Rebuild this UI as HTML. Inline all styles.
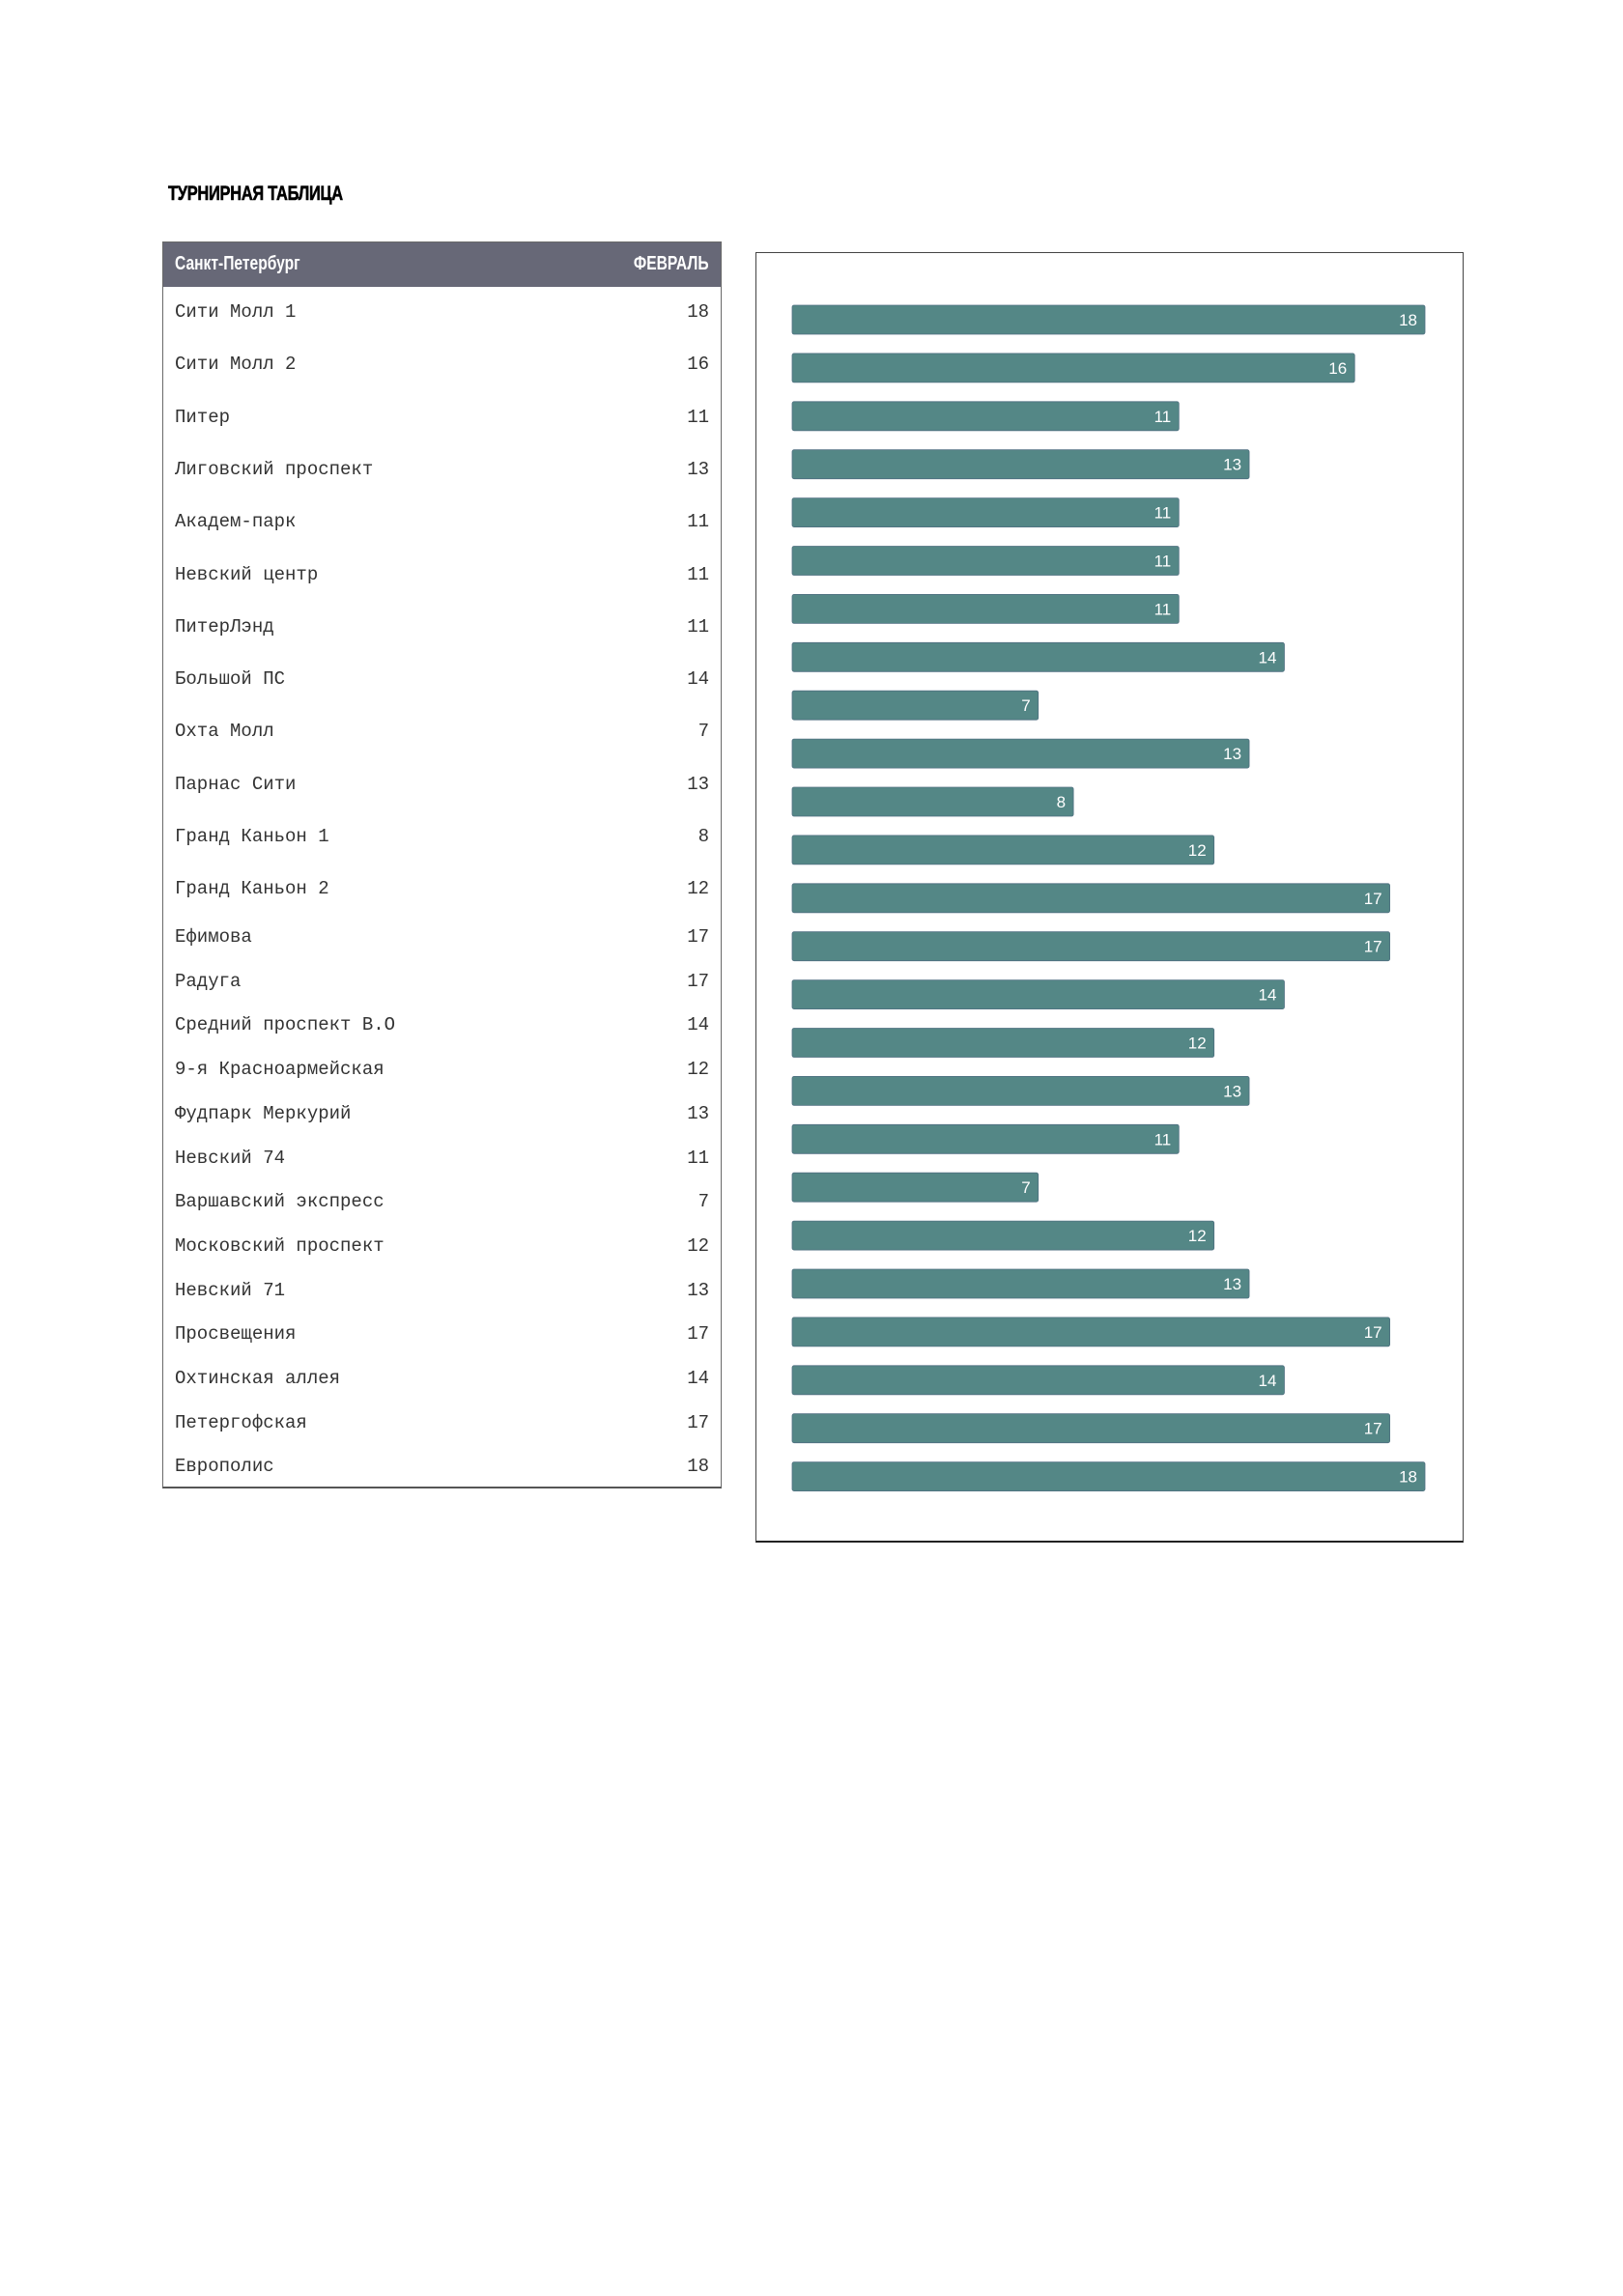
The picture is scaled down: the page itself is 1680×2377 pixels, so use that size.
<!DOCTYPE html>
<html><head><meta charset="utf-8">
<style>
html,body{margin:0;padding:0;background:#fff;}
body{width:1680px;height:2377px;position:relative;overflow:hidden;font-family:"Liberation Sans","DejaVu Sans",sans-serif;}
#title{position:absolute;left:174px;top:189px;font-family:"Liberation Sans Narrow","Liberation Sans",sans-serif;font-weight:bold;font-size:21px;color:#000;transform:scaleX(0.78);transform-origin:left;letter-spacing:-0.3px;-webkit-text-stroke:0.6px #000;}
#table{position:absolute;left:168px;top:250px;width:579px;height:1291px;border:1px solid #6a6a6a;border-bottom:2px solid #555;box-sizing:border-box;}
#thead{position:absolute;left:0;top:0;right:0;height:46px;background:#676877;color:#fff;font-family:"Liberation Sans Narrow","Liberation Sans",sans-serif;font-size:20px;font-weight:bold;}
.row{position:absolute;left:0;right:0;height:30px;font-family:"Liberation Mono","DejaVu Sans Mono",monospace;font-size:19px;color:#333;}
.row span{position:absolute;top:5px;}
#chart{position:absolute;left:782px;top:261px;width:733px;height:1336px;border:1px solid #444;border-bottom:2px solid #222;box-sizing:border-box;}
</style></head><body>
<div id="title">ТУРНИРНАЯ ТАБЛИЦА</div>
<div id="table">
  <div id="thead">
    <span style="position:absolute;left:12px;top:11px;transform:scaleX(0.78);transform-origin:left">Санкт-Петербург</span>
    <span style="position:absolute;right:12px;top:11px;transform:scaleX(0.78);transform-origin:right">ФЕВРАЛЬ</span>
  </div>
</div>
<svg id="chart" width="733" height="1336"></svg>
<script>
const categories=["Сити Молл 1","Сити Молл 2","Питер","Лиговский проспект","Академ-парк","Невский центр","ПитерЛэнд","Большой ПС","Охта Молл","Парнас Сити","Гранд Каньон 1","Гранд Каньон 2","Ефимова","Радуга","Средний проспект В.О","9-я Красноармейская","Фудпарк Меркурий","Невский 74","Варшавский экспресс","Московский проспект","Невский 71","Просвещения","Охтинская аллея","Петергофская","Европолис"];
const values=[18,16,11,13,11,11,11,14,7,13,8,12,17,17,14,12,13,11,7,12,13,17,14,17,18];

const table=document.getElementById('table');
function rowY(i){return i<12 ? 322+i*54.3 : 969+(i-12)*45.7;}
categories.forEach((c,i)=>{
  const r=document.createElement('div');
  r.className='row';
  
  
  r.style.top=(rowY(i)-250-16)+'px';
  const a=document.createElement('span');a.style.left='12px';a.textContent=c;
  
  
  const b=document.createElement('span');b.style.right='12px';b.textContent=values[i];
  
  
  r.appendChild(a);r.appendChild(b);table.appendChild(r);
});

const svg=document.getElementById('chart');
const NS='http://www.w3.org/2000/svg';
const x0=37, xMax=18, xW=655;
function xs(v){return x0+v/xMax*xW;}
function ys(i){return 69+i*49.9-15;}
values.forEach((v,i)=>{
  const r=document.createElementNS(NS,'rect');
  
  
  r.setAttribute('x',x0);r.setAttribute('y',ys(i));
  r.setAttribute('width',xs(v)-x0);r.setAttribute('height',30);
  r.setAttribute('rx',2);r.setAttribute('fill','#548786');
  r.setAttribute('stroke','#4f6f80');r.setAttribute('stroke-width','0.8');
  svg.appendChild(r);
  const t=document.createElementNS(NS,'text');
  
  
  t.setAttribute('x',xs(v)-8);t.setAttribute('y',ys(i)+21);
  t.setAttribute('text-anchor','end');t.setAttribute('fill','#fff');
  t.setAttribute('font-size','17');t.setAttribute('font-family','Liberation Sans, sans-serif');
  t.textContent=v;
  svg.appendChild(t);
});
</script>
</body></html>
